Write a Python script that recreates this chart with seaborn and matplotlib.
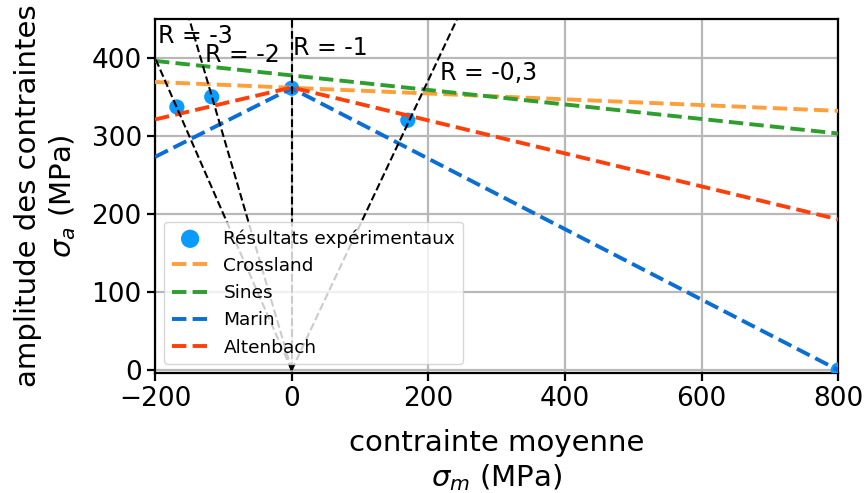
import numpy as np
import matplotlib
matplotlib.use("Agg")
import matplotlib.pyplot as plt
import seaborn as sns

# Résultats expérimentaux
exp_sm = [-168, -117, 0, 170, 800]
exp_sa = [337, 350, 361, 320, 0]

# Critères (contrainte moyenne, amplitude)
cross_sm = [-200, 800]
cross_sa = [369, 332]
sines_sm = [-200, 800]
sines_sa = [396, 303]
marin_sm = [-200, 0, 800]
marin_sa = [273, 361, 0]
alten_sm = [-200, 0, 800]
alten_sa = [321, 362, 193]

# Rapports de charge R
r_vals = [-3, -2, -1, -0.3]
r_labels = ["R = -3", "R = -2", "R = -1", "R = -0,3"]
r_text_x = [-196, -127, 2, 217]
r_text_y = [428, 403, 413, 381]

sns.set_style("ticks")
plt.rcParams["text.color"] = "black"
plt.rcParams["axes.labelcolor"] = "black"
plt.rcParams["xtick.color"] = "black"
plt.rcParams["ytick.color"] = "black"
fig, ax = plt.subplots(figsize=(8.66, 4.93), dpi=100)
fig.subplots_adjust(left=0.179, right=0.968, top=0.962, bottom=0.243)

sns.scatterplot(x=exp_sm, y=exp_sa, ax=ax, color="#0a9bff", s=120,
                edgecolor="none", label="Résultats expérimentaux", zorder=3)
sns.lineplot(x=cross_sm, y=cross_sa, ax=ax, color="#ff9f3a", lw=2.8,
             linestyle="--", label="Crossland", sort=False, zorder=4)
sns.lineplot(x=sines_sm, y=sines_sa, ax=ax, color="#2e9e2e", lw=2.8,
             linestyle="--", label="Sines", sort=False, zorder=4)
sns.lineplot(x=marin_sm, y=marin_sa, ax=ax, color="#0a6ed6", lw=2.8,
             linestyle="--", label="Marin", sort=False, zorder=4)
sns.lineplot(x=alten_sm, y=alten_sa, ax=ax, color="#ff3f0a", lw=2.8,
             linestyle="--", label="Altenbach", sort=False, zorder=4)

# droites de rapport de charge : sigma_m = sigma_a (1+R)/(1-R)
sa_line = np.array([0, 600])
for r, lab, tx, ty in zip(r_vals, r_labels, r_text_x, r_text_y):
    sm_line = sa_line * (1 + r) / (1 - r)
    ax.plot(sm_line, sa_line, color="black", lw=1.5, linestyle="--", zorder=5)
    ax.text(tx, ty, lab, fontsize=17, va="center", ha="left", zorder=6)

ax.set_xlim(-200, 800)
ax.set_ylim(-4, 450)
ax.set_xticks([-200, 0, 200, 400, 600, 800])
ax.set_yticks([0, 100, 200, 300, 400])
ax.grid(True, color="#b8b8b8", lw=1.6)
ax.set_axisbelow(True)
for sp in ax.spines.values():
    sp.set_color("black")
    sp.set_linewidth(1.6)
ax.tick_params(labelsize=19, width=1.6, length=6, color="black")

ax.set_xlabel("contrainte moyenne\n$\\sigma_m$ (MPa)", fontsize=21, labelpad=12)
ax.set_ylabel("amplitude des contraintes\n$\\sigma_a$ (MPa)", fontsize=21, labelpad=10)

ax.legend(loc="lower left", fontsize=13.3, framealpha=0.8, markerscale=1.2)

fig.savefig("out.png", dpi=100)
